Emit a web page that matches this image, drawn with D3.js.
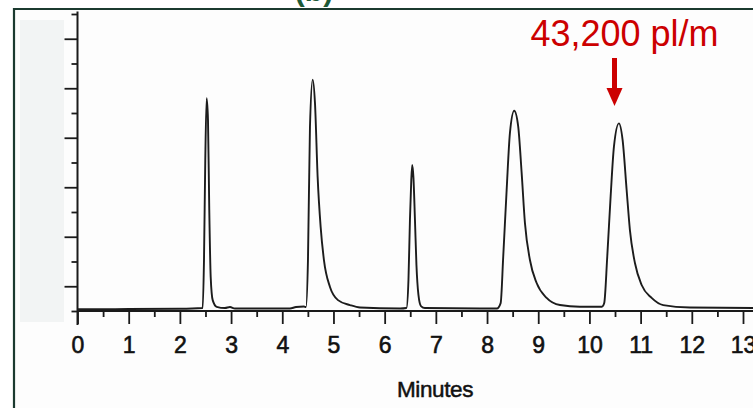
<!DOCTYPE html>
<html>
<head>
<meta charset="utf-8">
<script src="https://cdn.jsdelivr.net/npm/d3@7"></script>
<style>
  body { margin: 0; background: #fff; }
  svg { display: block; font-family: "Liberation Sans", Arial, sans-serif; }
</style>
</head>
<body>
<svg id="chart" width="753" height="408"></svg>
<script>
// trace: time in minutes, detector signal in tick units
const minutes = [0, 1.0, 2.0, 2.445, 2.471, 2.496, 2.523, 2.549, 2.574, 2.602, 2.641, 2.719, 2.881, 2.979, 3.076,
  4.15, 4.268, 4.424, 4.463, 4.502, 4.541, 4.594, 4.639, 4.691, 4.75, 4.814, 4.932, 5.088, 5.322, 5.518,
  6.3, 6.426, 6.465, 6.494, 6.52, 6.539, 6.563, 6.592, 6.621, 6.66, 6.709, 6.787,
  7.861, 8.193, 8.266, 8.316, 8.383, 8.447, 8.531, 8.609, 8.676, 8.74, 8.838, 8.969, 9.164, 9.424, 9.814, 10.244,
  10.289, 10.348, 10.414, 10.479, 10.576, 10.648, 10.727, 10.791, 10.889, 11.02, 11.215, 11.441, 11.963, 13.2];
const signal = [0.07, 0.08, 0.09, 0.12, 2.06, 6.1, 8.6, 7.72, 4.08, 1.37, 0.44, 0.17, 0.12, 0.16, 0.1,
  0.1, 0.16, 0.18, 0.16, 2.06, 7.43, 9.35, 8.4, 5.41, 3.39, 2.06, 0.97, 0.44, 0.24, 0.14,
  0.1, 0.12, 1.25, 3.68, 5.29, 5.9, 5.37, 3.68, 1.86, 0.65, 0.2, 0.12,
  0.1, 0.1, 0.32, 2.19, 4.89, 7.19, 8.09, 7.45, 5.58, 3.56, 2.06, 1.13, 0.53, 0.24, 0.17, 0.17,
  0.32, 2.19, 4.62, 6.64, 7.58, 6.91, 4.89, 3.27, 1.94, 1.05, 0.53, 0.24, 0.14, 0.12];

const xTickLabels = [0, 1, 2, 3, 4, 5, 6, 7, 8, 9, 10, 11, 12, 13];
const xMinorTicks = [0.5, 1.5, 2.5, 3.5, 4.5, 5.5, 6.5, 7.5, 8.5, 9.5, 10.5, 11.5, 12.5];
const yMajorTicks = [1, 3, 5, 7, 9, 11];
const yMinorTicks = [0, 2, 4, 6, 8, 10, 12];
const annotation = { text: "43,200 pl/m", at: 10.49 };

const svg = d3.select("#chart");

const x = d3.scaleLinear().domain([0, 13]).range([77.5, 743]);
const y = d3.scaleLinear().domain([0, 12]).range([311, 14]);

// slide frame
svg.append("text")
    .attr("x", 314).attr("y", 1)
    .attr("text-anchor", "middle")
    .attr("font-size", 30).attr("font-weight", "bold")
    .attr("fill", "#1d5a36")
    .text("(b)");

svg.append("rect")
    .attr("x", 15).attr("y", 9).attr("width", 738).attr("height", 399)
    .attr("fill", "#fdfdfd");

svg.append("rect")
    .attr("x", 20).attr("y", 20).attr("width", 44).attr("height", 302)
    .attr("fill", "#f2f4f4");

svg.append("path")
    .attr("d", "M14,408V9H753")
    .attr("fill", "none")
    .attr("stroke", "#1b3a2f")
    .attr("stroke-width", 2.2);

// axes
const axisColor = "#1a1a1a";

const gx = svg.append("g").attr("transform", `translate(0,${y(0)})`);
gx.call(d3.axisBottom(x).tickValues(xTickLabels).tickSize(13).tickPadding(13).tickFormat(d3.format("d")));
gx.call(g => g.select(".domain").remove());
gx.selectAll("text")
    .attr("font-size", 23).attr("fill", "#111").attr("font-family", null)
    .attr("stroke", "#111").attr("stroke-width", 0.6);

const gxMinor = svg.append("g").attr("transform", `translate(0,${y(0)})`);
gxMinor.call(d3.axisBottom(x).tickValues(xMinorTicks).tickSize(6).tickFormat(""));
gxMinor.call(g => g.select(".domain").remove());

const gy = svg.append("g").attr("transform", `translate(${x(0)},0)`);
gy.call(d3.axisLeft(y).tickValues(yMajorTicks).tickSize(13).tickFormat(""));
gy.call(g => g.select(".domain").remove());

const gyMinor = svg.append("g").attr("transform", `translate(${x(0)},0)`);
gyMinor.call(d3.axisLeft(y).tickValues(yMinorTicks).tickSize(6).tickFormat(""));
gyMinor.call(g => g.select(".domain").remove());

svg.selectAll(".tick line").attr("stroke", axisColor).attr("stroke-width", 1.8);

svg.append("line")
    .attr("x1", x(0)).attr("x2", x(13.2))
    .attr("y1", y(0)).attr("y2", y(0))
    .attr("stroke", axisColor).attr("stroke-width", 2);

svg.append("line")
    .attr("x1", x(0)).attr("x2", x(0))
    .attr("y1", y(12.1)).attr("y2", y(0) + 14)
    .attr("stroke", axisColor).attr("stroke-width", 2);

svg.append("text")
    .attr("x", 435).attr("y", 397)
    .attr("text-anchor", "middle")
    .attr("font-size", 22.5)
    .attr("fill", "#111")
    .attr("stroke", "#111").attr("stroke-width", 0.5)
    .attr("letter-spacing", -0.4)
    .text("Minutes");

// chromatogram trace
const line = d3.line()
    .x((d, i) => x(minutes[i]))
    .y(d => y(d))
    .curve(d3.curveMonotoneX);

svg.append("path")
    .datum(signal)
    .attr("d", line)
    .attr("fill", "none")
    .attr("stroke", "#1c1c1c")
    .attr("stroke-width", 1.9)
    .attr("stroke-linejoin", "round");

// annotation
const red = "#cc0000";
const ax = x(annotation.at);

svg.append("text")
    .attr("x", ax + 10).attr("y", 46)
    .attr("text-anchor", "middle")
    .attr("font-size", 36)
    .attr("fill", red)
    .text(annotation.text);

svg.append("line")
    .attr("x1", ax).attr("x2", ax)
    .attr("y1", 58).attr("y2", 90)
    .attr("stroke", red).attr("stroke-width", 5);

svg.append("path")
    .attr("d", `M${ax - 8},88L${ax + 8},88L${ax},106Z`)
    .attr("fill", red);
</script>
</body>
</html>
